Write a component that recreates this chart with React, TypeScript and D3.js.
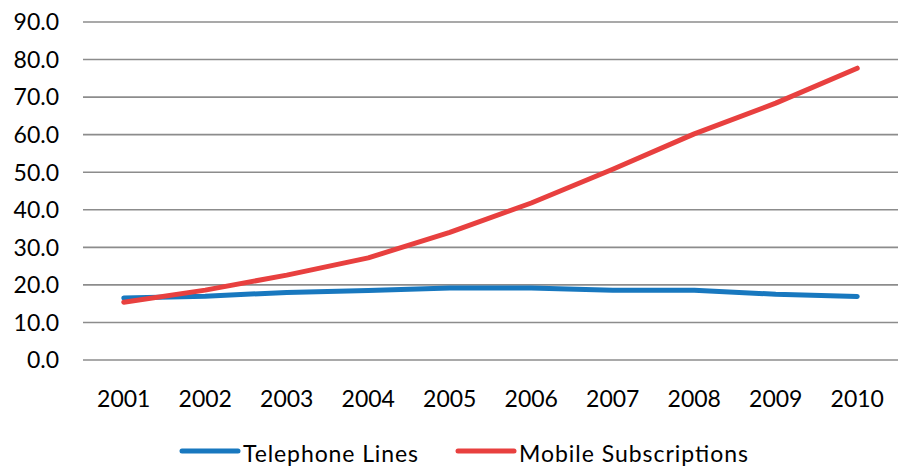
import React from "react";
import * as d3 from "d3";

const years = ["2001", "2002", "2003", "2004", "2005", "2006", "2007", "2008", "2009", "2010"];
const telephoneLines = [16.5, 17.0, 18.0, 18.5, 19.2, 19.2, 18.6, 18.6, 17.5, 16.9];
const mobileSubscriptions = [15.4, 18.6, 22.6, 27.2, 34.0, 41.8, 50.8, 60.2, 68.4, 77.7];
const yTicks = [0, 10, 20, 30, 40, 50, 60, 70, 80, 90];
const seriesNames = ["Telephone Lines", "Mobile Subscriptions"];
const seriesColors = ["#1878bf", "#e8403f"];

const W = 904;
const H = 466;
const FONT = "Lato, 'Open Sans', sans-serif";

export default function App() {
  const x = d3.scaleBand<string>().domain(years).range([83, 898]);
  const y = d3.scaleLinear().domain([0, 90]).range([360, 22]);
  const line = d3
    .line<number>()
    .x((_, i) => (x(years[i]) as number) + x.bandwidth() / 2)
    .y((d) => y(d))
    .curve(d3.curveLinear);
  const series = [telephoneLines, mobileSubscriptions];
  const legendX = [182, 458];
  const legendTextLen = [175, 229];

  return (
    <svg width={W} height={H} style={{ position: "absolute", left: 0, top: 0, background: "#fff" }}>
      <rect width={W} height={H} fill="#fff" />
      {yTicks.map((t) => (
        <g key={t}>
          <line x1={83} x2={898} y1={y(t)} y2={y(t)} stroke="#8c8c8c" strokeWidth={1.6} />
          <text x={59} y={y(t)} dy="0.36em" textAnchor="end" fontFamily={FONT} fontSize={23} fill="#000">
            {t.toFixed(1)}
          </text>
        </g>
      ))}
      {years.map((yr) => (
        <text
          key={yr}
          x={(x(yr) as number) + x.bandwidth() / 2}
          y={407}
          textAnchor="middle"
          fontFamily={FONT}
          fontSize={23}
          fill="#000"
        >
          {yr}
        </text>
      ))}
      {series.map((s, i) => (
        <path
          key={i}
          d={line(s) || ""}
          fill="none"
          stroke={seriesColors[i]}
          strokeWidth={5}
          strokeLinecap="round"
          strokeLinejoin="round"
        />
      ))}
      {seriesNames.map((n, i) => (
        <g key={n}>
          <line
            x1={legendX[i]}
            x2={legendX[i] + 56}
            y1={451}
            y2={451}
            stroke={seriesColors[i]}
            strokeWidth={5}
            strokeLinecap="round"
          />
          <text
            x={legendX[i] + 61}
            y={462}
            fontFamily={FONT}
            fontSize={23}
            fill="#000"
            textLength={legendTextLen[i]}
            lengthAdjust="spacing"
          >
            {n}
          </text>
        </g>
      ))}
    </svg>
  );
}
